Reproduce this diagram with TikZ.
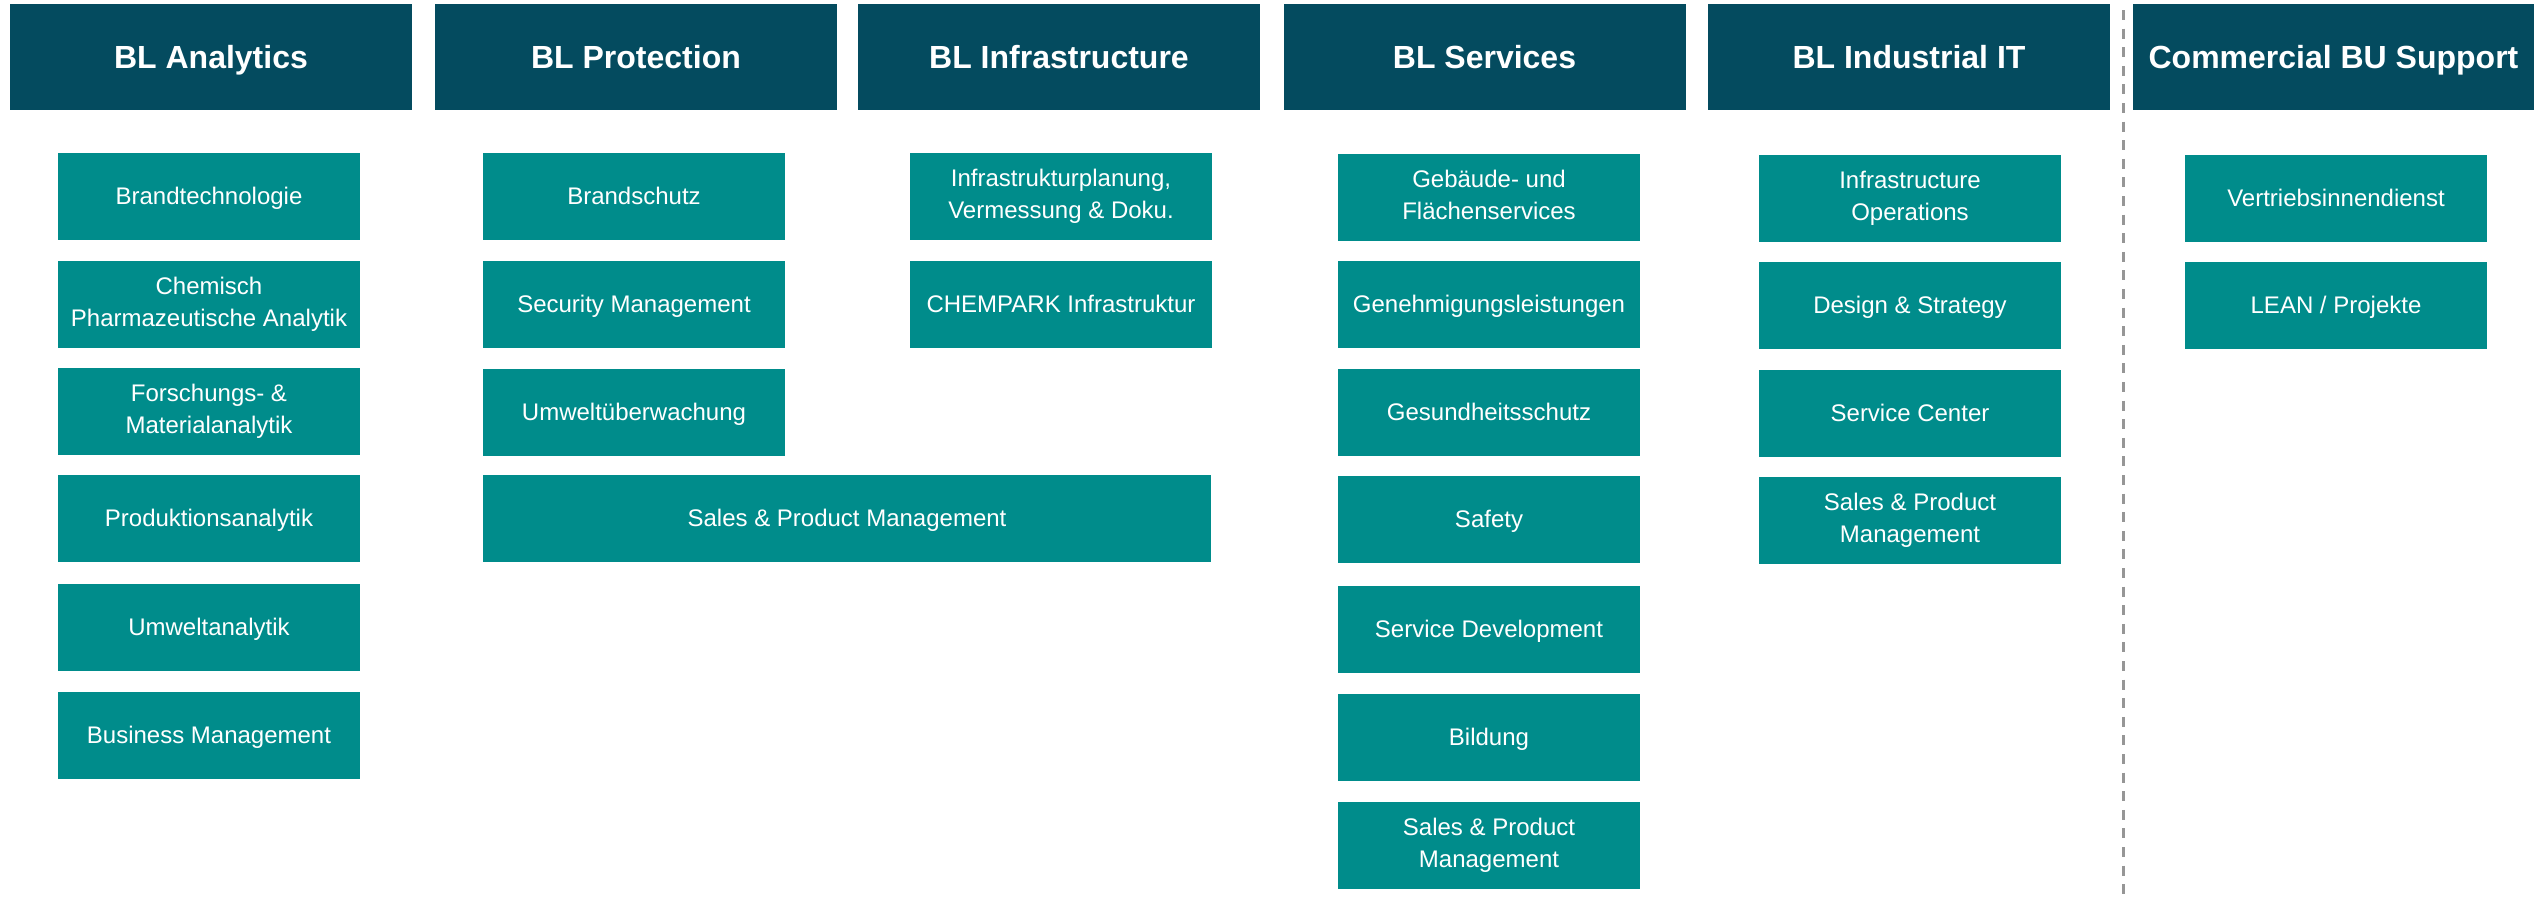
\documentclass[tikz,border=0pt]{standalone}
\usepackage{fontspec}
\setmainfont{Liberation Sans}
\definecolor{hdr}{RGB}{4,75,95}
\definecolor{sub}{RGB}{0,140,139}
\definecolor{dline}{RGB}{150,150,150}
\newcommand\lnstrut{\rule[-0.212em]{0pt}{1.117em}}
\begin{document}
\begin{tikzpicture}[x=0.5pt,y=-0.5pt,
  hbox/.style={fill=hdr,text=white,inner sep=0pt,minimum width=201pt,minimum height=53pt,font=\bfseries\fontsize{16}{19}\selectfont,align=center,execute at begin node=\lnstrut,execute at end node=\lnstrut},
  sbox/.style={fill=sub,text=white,inner sep=0pt,minimum width=151pt,minimum height=43.5pt,font=\fontsize{12}{15.8}\selectfont,align=center,execute at begin node=\lnstrut,execute at end node=\lnstrut},
  wbox/.style={sbox,minimum width=364pt},
  sep/.style={draw=dline,line width=1.5pt,dash pattern=on 5pt off 4.3pt}]
\useasboundingbox (0,0) rectangle (2534,901);
% headers
\node[hbox] (hA) at (211,57) {BL Analytics};
\node[hbox] (hP) at (636,57) {BL Protection};
\node[hbox] (hI) at (1059,57) {BL Infrastructure};
\node[hbox] (hS) at (1484.5,57) {BL Services};
\node[hbox] (hIT) at (1909,57) {BL Industrial IT};
\node[hbox,minimum width=200.5pt] (hC) at (2333.5,57) {Commercial BU Support};
% separator
\coordinate (st) at (2123,10);
\coordinate (sb) at (2123,901);
\draw[sep] (st) -- (sb);
% BL Analytics
\node[sbox] (a1) at (209,196.5) {Brandtechnologie};
\node[sbox] (a2) at (209,304.5) {Chemisch\\Pharmazeutische Analytik};
\node[sbox] (a3) at (209,411.5) {Forschungs- \&\\Materialanalytik};
\node[sbox] (a4) at (209,518.5) {Produktionsanalytik};
\node[sbox] (a5) at (209,627.5) {Umweltanalytik};
\node[sbox] (a6) at (209,735.5) {Business Management};
% BL Protection
\node[sbox] (p1) at (634,196.5) {Brandschutz};
\node[sbox] (p2) at (634,304.5) {Security Management};
\node[sbox] (p3) at (634,412.5) {Umweltüberwachung};
\node[wbox] (p4) at (847,518.5) {Sales \& Product Management};
% BL Infrastructure
\node[sbox] (i1) at (1061,196.5) {Infrastrukturplanung,\\Vermessung \& Doku.};
\node[sbox] (i2) at (1061,304.5) {CHEMPARK Infrastruktur};
% BL Services
\node[sbox] (s1) at (1489,197.5) {Gebäude- und\\Flächenservices};
\node[sbox] (s2) at (1489,304.5) {Genehmigungsleistungen};
\node[sbox] (s3) at (1489,412.5) {Gesundheitsschutz};
\node[sbox] (s4) at (1489,519.5) {Safety};
\node[sbox] (s5) at (1489,629.5) {Service Development};
\node[sbox] (s6) at (1489,737.5) {Bildung};
\node[sbox] (s7) at (1489,845.5) {Sales \& Product\\Management};
% BL Industrial IT
\node[sbox] (t1) at (1910,198.5) {Infrastructure\\Operations};
\node[sbox] (t2) at (1910,305.5) {Design \& Strategy};
\node[sbox] (t3) at (1910,413.5) {Service Center};
\node[sbox] (t4) at (1910,520.5) {Sales \& Product\\Management};
% Commercial BU Support
\node[sbox] (c1) at (2336,198.5) {Vertriebsinnendienst};
\node[sbox] (c2) at (2336,305.5) {LEAN / Projekte};
\end{tikzpicture}
\end{document}
